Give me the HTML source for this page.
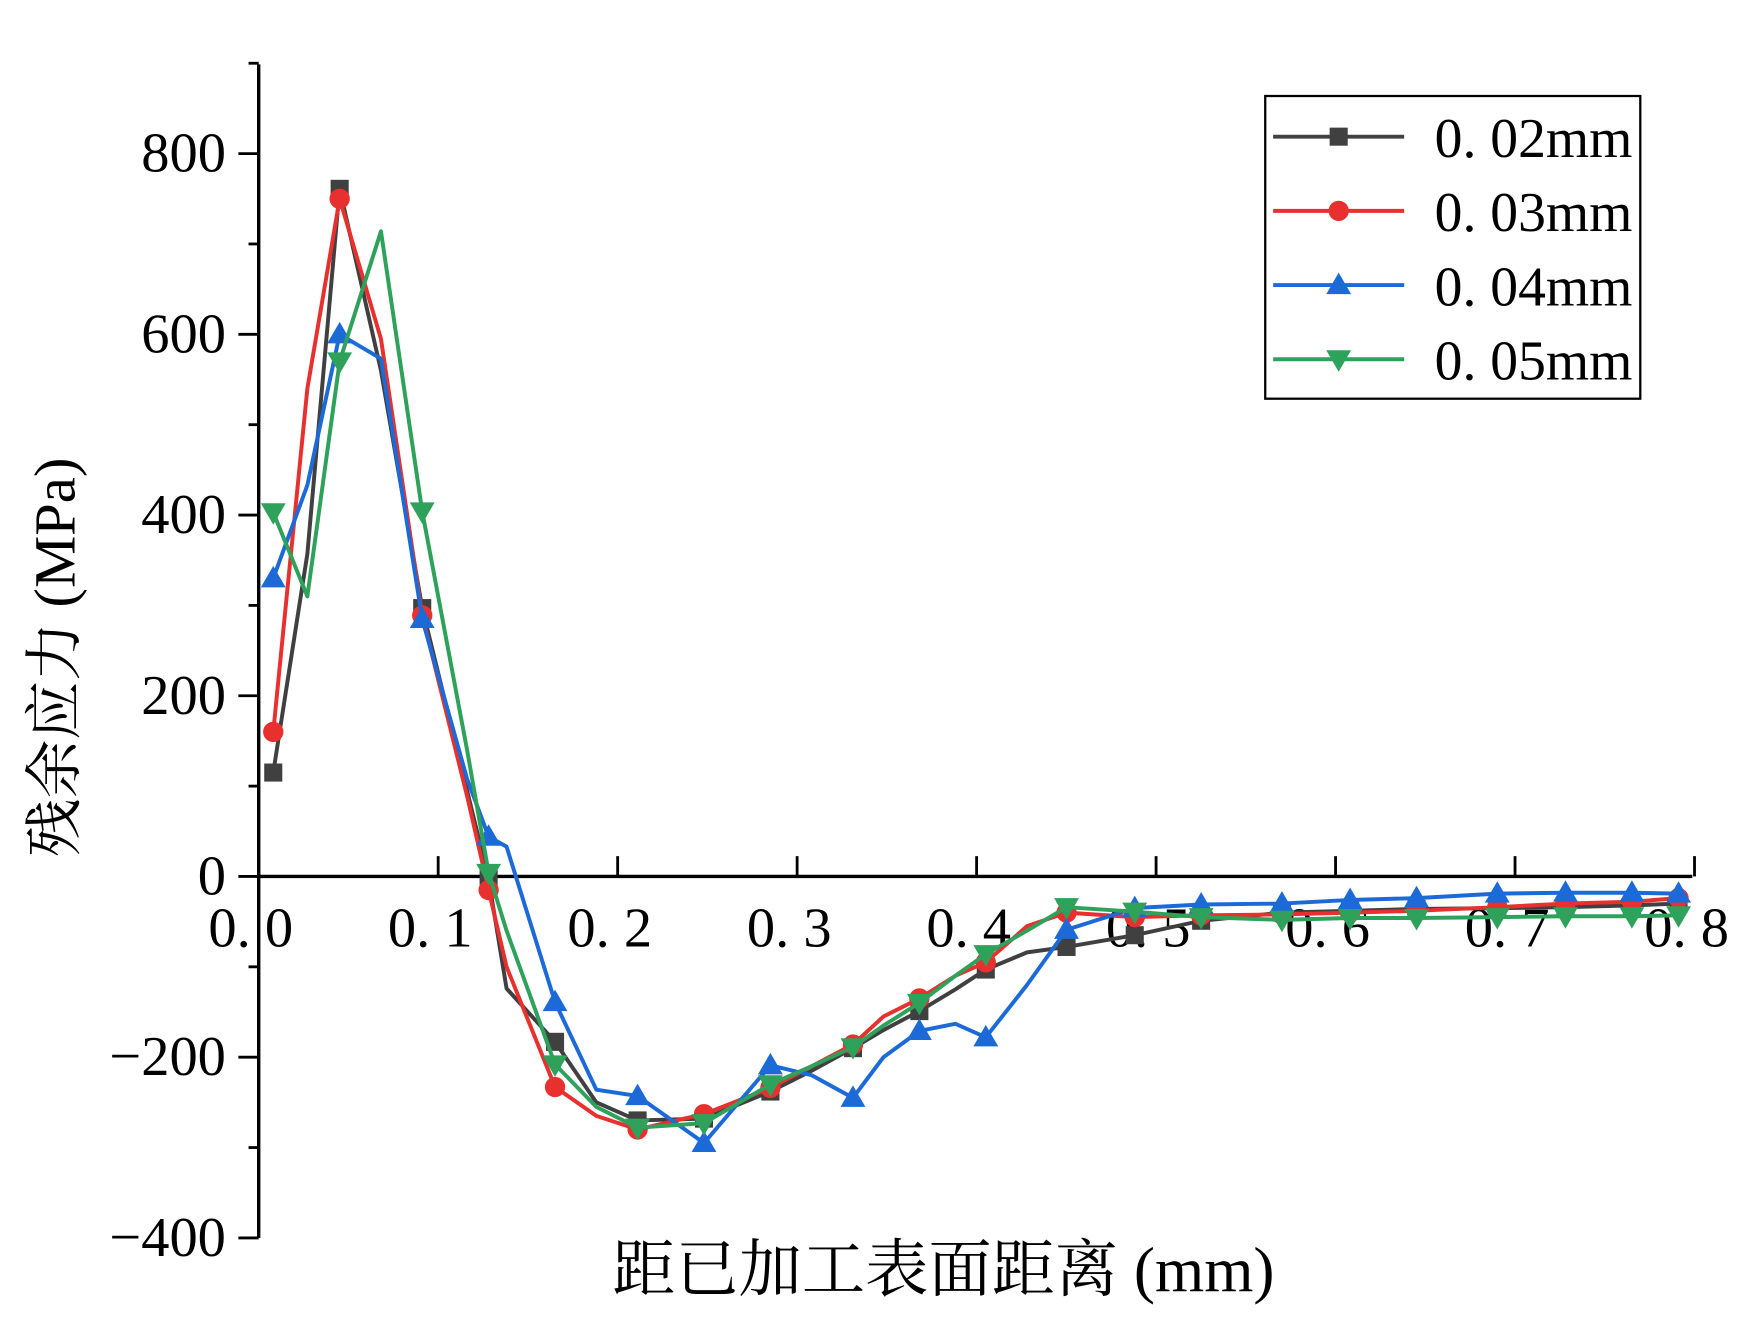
<!DOCTYPE html>
<html><head><meta charset="utf-8">
<style>html,body{margin:0;padding:0;background:#fff;}svg{display:block;}
text{font-family:"Liberation Serif","Noto Serif CJK SC","Noto Sans CJK SC",serif;}</style></head>
<body>
<svg id="chart" width="1751" height="1326" viewBox="0 0 1550 1174" preserveAspectRatio="none" xmlns="http://www.w3.org/2000/svg"></svg>
<script>
const xs = [0.01,0.029,0.047,0.07,0.093,0.118,0.13,0.14,0.167,0.19,0.213,0.25,0.287,0.31,0.333,0.35,0.37,0.39,0.407,0.43,0.452,0.49,0.527,0.572,0.61,0.647,0.692,0.73,0.767,0.793];
const s002 = [115,357,761,560,297,95,-3,-124,-183,-250,-270,-268,-238,-215,-190,-170,-149,-125,-103,-84,-78,-65,-49,-40,-38,-36,-35,-34,-32,-30];
const s003 = [160,540,750,595,289,89,-15,-100,-233,-265,-280,-263,-234,-210,-186,-155,-135,-110,-95,-55,-40,-45,-43,-42,-40,-38,-34,-30,-28,-24];
const s004 = [330,433,600,573,285,108,44,33,-139,-236,-243,-295,-209,-220,-245,-200,-171,-163,-178,-120,-59,-35,-31,-30,-26,-24,-19,-18,-18,-19];
const s005 = [403,310,570,714,404,140,4,-60,-208,-255,-278,-273,-230,-210,-189,-165,-140,-110,-86,-60,-34,-39,-45,-48,-46,-46,-45,-44,-44,-43];
const series = [
 {name:'0. 02mm', vals:s002, color:'#404040', marker:'square'},
 {name:'0. 03mm', vals:s003, color:'#e8302e', marker:'circle'},
 {name:'0. 04mm', vals:s004, color:'#1c6ad8', marker:'up'},
 {name:'0. 05mm', vals:s005, color:'#2ea25a', marker:'down'}];
const markerIdx = [0,2,4,6,8,10,11,12,14,16,18,20,21,22,23,24,25,26,27,28,29];
const yTicks = [-400,-200,0,200,400,600,800];
const xTicks = [0.0,0.1,0.2,0.3,0.4,0.5,0.6,0.7,0.8];
const xTickLabels = ['0. 0','0. 1','0. 2','0. 3','0. 4','0. 5','0. 6','0. 7','0. 8'];

const NS='http://www.w3.org/2000/svg';
const svg=document.getElementById('chart');
function X(v){return 226+v*(1497-226)/0.8;}
function Y(v){return 776-v*0.8;}
function mk(tag,attrs,parent){const e=document.createElementNS(NS,tag);for(const k in attrs)e.setAttribute(k,attrs[k]);(parent||svg).appendChild(e);return e;}

// axes
let a=mk('line',{x1:229,y1:57,x2:229,y2:1096,stroke:'#000','stroke-width':3});


a=mk('line',{x1:229,y1:776,x2:1498,y2:776,stroke:'#000','stroke-width':3});


for(let v=-400;v<=900;v+=100){
  const t=mk('line',{x1:(v%200===0)?211:220,y1:Y(v),x2:229,y2:Y(v),stroke:'#000','stroke-width':2.5});
  
  
}
yTicks.forEach(v=>{
  const t=mk('text',{x:200,y:Y(v)+16,'text-anchor':'end','font-size':50});
  t.textContent=(v<0?'\u2212':'')+Math.abs(v);
  
  
});
xTicks.forEach((v,i)=>{
  const t=mk('line',{x1:X(v)+3,y1:776,x2:X(v)+3,y2:758,stroke:'#000','stroke-width':2.5});
  
  
  const l=mk('text',{x:X(v)-4,y:838,'text-anchor':'middle','font-size':50});
  l.textContent=xTickLabels[i];
  
  
});
let tt=mk('text',{x:835,y:1143,'text-anchor':'middle','font-size':56});
tt.textContent='距已加工表面距离 (mm)';


tt=mk('text',{x:0,y:0,'text-anchor':'middle','font-size':52,transform:'translate(66,582) rotate(-90)'});
tt.textContent='残余应力 (MPa)';



function drawMarker(type,x,y,color,g){
  let m;
  if(type==='square') m=mk('rect',{x:x-8,y:y-8,width:16,height:16,fill:color},g);
  else if(type==='circle') m=mk('circle',{cx:x,cy:y,r:9,fill:color},g);
  else if(type==='up') m=mk('polygon',{points:`${x},${y-11} ${x-11},${y+8} ${x+11},${y+8}`,fill:color},g);
  else m=mk('polygon',{points:`${x},${y+11} ${x-11},${y-8} ${x+11},${y-8}`,fill:color},g);
  return m;
}
series.forEach(s=>{
  const g=mk('g',{});
  
  
  const pts=xs.map((x,i)=>X(x)+','+Y(s.vals[i])).join(' ');
  const pl=mk('polyline',{points:pts,fill:'none',stroke:s.color,'stroke-width':3.5,'stroke-linejoin':'round'},g);
  
  
  markerIdx.forEach(i=>{
    const m=drawMarker(s.marker,X(xs[i]),Y(s.vals[i]),s.color,g);
    
    
  });
});
// legend
const lg=mk('g',{});


mk('rect',{x:1120,y:85,width:332,height:268,fill:'#fff',stroke:'#000','stroke-width':2},lg);
series.forEach((s,i)=>{
  const y=121+i*65.7;
  const e=mk('g',{},lg);
  
  
  mk('line',{x1:1127,y1:y,x2:1243,y2:y,stroke:s.color,'stroke-width':3.5},e);
  drawMarker(s.marker,1185,y,s.color,e);
  const t=mk('text',{x:1270,y:y+18,'font-size':50,textLength:175,lengthAdjust:'spacingAndGlyphs'},e);
  t.textContent=s.name;
});
</script>
</body></html>
